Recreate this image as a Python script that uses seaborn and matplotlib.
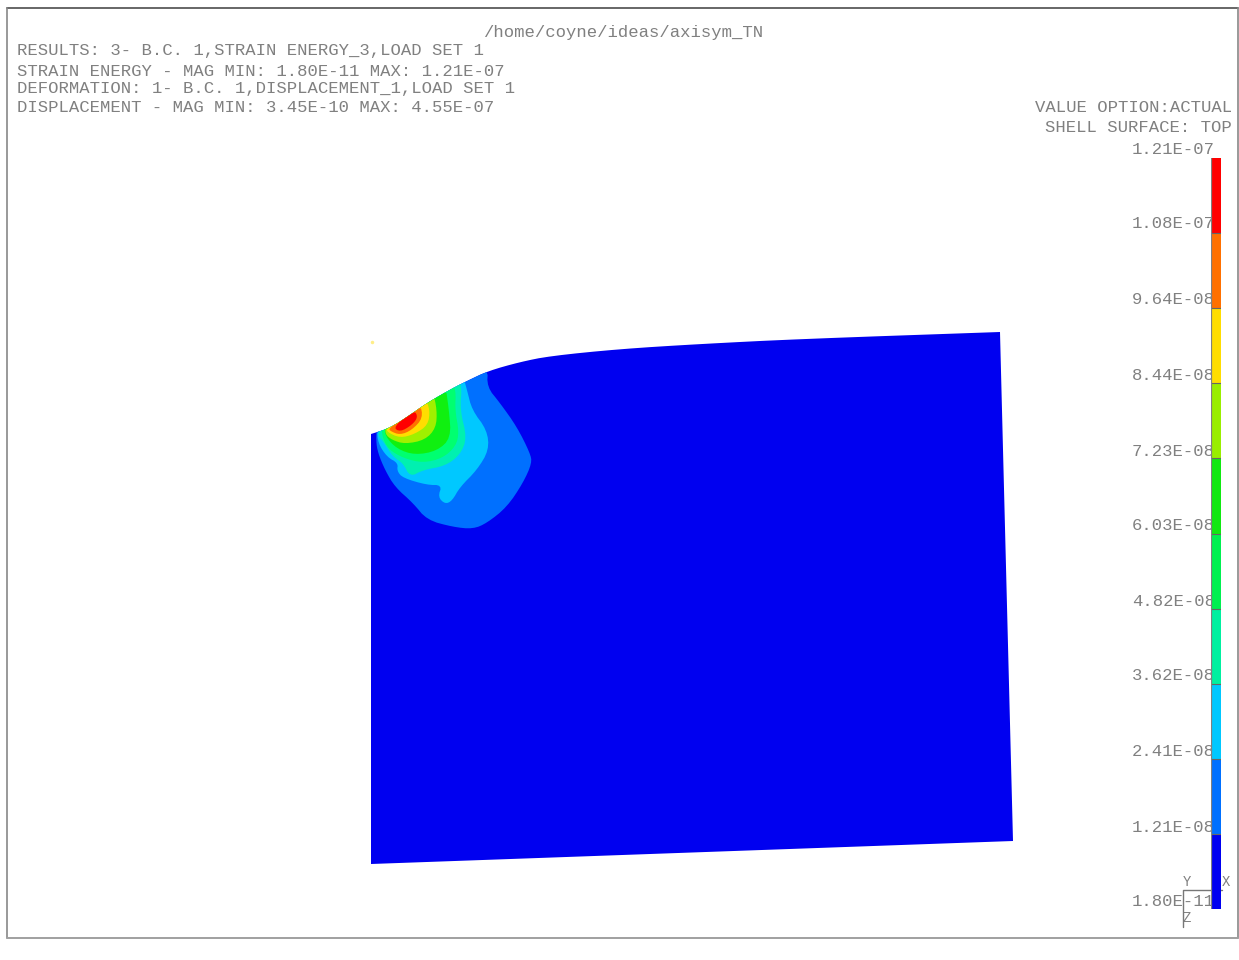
import numpy as np
import matplotlib
matplotlib.use("Agg")
import matplotlib.pyplot as plt
from matplotlib.colors import ListedColormap
from matplotlib.patches import Polygon
import seaborn as sns

# ---- text content ----
header_lines = [
    "RESULTS: 3- B.C. 1,STRAIN ENERGY_3,LOAD SET 1",
    "STRAIN ENERGY - MAG MIN: 1.80E-11 MAX: 1.21E-07",
    "DEFORMATION: 1- B.C. 1,DISPLACEMENT_1,LOAD SET 1",
    "DISPLACEMENT - MAG MIN: 3.45E-10 MAX: 4.55E-07",
]
path_label = "/home/coyne/ideas/axisym_TN"
option_lines = ["VALUE OPTION:ACTUAL", "SHELL SURFACE: TOP"]
scale_labels = ["1.21E-07", "1.08E-07", "9.64E-08", "8.44E-08", "7.23E-08", "6.03E-08",
                "4.82E-08", "3.62E-08", "2.41E-08", "1.21E-08", "1.80E-11"]

# ---- colour bands, top (high) to bottom (low) ----
band_colors = ["#ff0000", "#ff7000", "#ffdd00", "#99ee00", "#11e811",
               "#00f050", "#00f0a0", "#00c8ff", "#0070ff", "#0000f0"]
band_index = list(range(10))

# ---- mesh outline and contour regions ----
top_edge = [(371,434),(390,428),(410,415),(427,403),(453,388),(467,381),(488,371),(520,362),(550,356),
            (620,349),(700,344),(800,339),(1000,332)]
lower_corners = [(1000,332),(1013,841),(371,864)]
region_blue = [(488,368),(487,387),(500,403),(517,427),(530,453),(532,463),(523,483),(507,507),
               (487,523),(473,529),(453,527),(427,520),(413,503),(395,487),(385,470),(378,453),
               (376,441),(377,425),(420,400),(467,370)]
region_cyan = [(462,372),(467,390),(472,410),(487,430),(489,450),(477,470),(460,487),(452,501),
               (445,504),(438,497),(442,485),(427,485),(403,478),(397,471),(398,463),(387,457),
               (378,443),(377,428),(420,395)]
region_teal = [(380,425),(455,375),(462,385),(460,410),(467,438),(460,455),(445,466),(423,470),
               (410,477),(403,463),(393,457),(383,441),(378,436)]
region_spring = [(382,425),(450,378),(456,390),(455,410),(459,432),(456,446),(443,458),(423,463),
                 (403,458),(388,449),(382,436)]
region_green = [(385,425),(445,383),(449,410),(451,438),(437,451),(415,455),(397,449),(385,436)]
region_lime = [(386,425),(433,392),(437,410),(436,428),(425,440),(405,444),(392,440),(385,434)]
region_yellow = [(387,428),(425,398),(430,410),(428,425),(415,434),(400,438),(387,432)]
region_orange = [(389,428),(420,403),(423,418),(412,430),(400,435),(390,431)]
region_red = [(393,427),(414,410),(418,417),(412,425),(400,432)]
regions = [region_blue, region_cyan, region_teal, region_spring, region_green,
           region_lime, region_yellow, region_orange, region_red]
region_colors = ["#0070ff", "#00c8ff", "#00f0b0", "#00ff70", "#10f010",
                 "#a0f000", "#ffdd00", "#ff7000", "#ff0000"]


def rounded(points, closed=True, passes=2):
    """Round the corners of a traced outline so it draws as a soft curve."""
    pts = np.asarray(points, dtype=float)
    for _ in range(passes):
        a = pts if closed else pts[:-1]
        b = np.roll(pts, -1, axis=0) if closed else pts[1:]
        q, r = 0.75 * a + 0.25 * b, 0.25 * a + 0.75 * b
        mid = np.empty((2 * len(a), 2))
        mid[0::2], mid[1::2] = q, r
        pts = mid if closed else np.vstack([pts[0], mid, pts[-1]])
    return pts


sns.set_theme(style="white")
plt.rcParams["font.family"] = ["Liberation Mono", "DejaVu Sans"]

W, H = 1239, 960
fig = plt.figure(figsize=(W / 100, H / 100), dpi=100, facecolor="white")
ax = fig.add_axes([0, 0, 1, 1])
ax.set_xlim(0, W)
ax.set_ylim(H, 0)
ax.axis("off")

# frame
ax.plot([7, 1238], [8, 8], color="#666666", lw=1.4)
ax.plot([7, 7], [8, 938], color="#888888", lw=1.2)
ax.plot([1238, 1238], [8, 938], color="#888888", lw=1.2)
ax.plot([7, 1238], [938, 938], color="#a0a0a0", lw=1.4)

# mesh
body = np.vstack([rounded(top_edge, closed=False), lower_corners[1:]])
outline = Polygon(body, closed=True, fc="#0000f0", ec="none", zorder=2)
ax.add_patch(outline)
for pts, c in zip(regions, region_colors):
    p = Polygon(rounded(pts), closed=True, fc=c, ec="none", zorder=3)
    ax.add_patch(p)
    p.set_clip_path(outline)
ax.plot([372], [342], marker="o", ms=1.5, color="#ffee88", zorder=2)

# texts
txt = dict(color="#808080", fontsize=12.4, va="center", ha="left", zorder=5)
for s, y in zip(header_lines, [51, 71, 89, 108]):
    ax.text(17, y, s, **txt)
ax.text(483, 33, path_label, **txt)
for s, y in zip(option_lines, [108, 127]):
    ax.text(1232, y, s, **{**txt, "ha": "right"})
for s, y in zip(scale_labels, [150, 224, 300, 375, 451, 526, 601, 676, 751, 827, 901]):
    ax.text(1132, y, s, **txt)

# axis triad
ax.plot([1222, 1183, 1183], [890, 890, 927], color="#777777", lw=1, zorder=7)
ax.text(1187, 882, "Y", **{**txt, "ha": "center", "fontsize": 10})
ax.text(1226, 882, "X", **{**txt, "ha": "center", "fontsize": 10})
ax.text(1187, 918, "Z", **{**txt, "ha": "center", "fontsize": 10})

# colour scale
cax = fig.add_axes([1211 / W, 1 - 909 / H, 10 / W, 751 / H])
sns.heatmap(np.array(band_index).reshape(-1, 1), cmap=ListedColormap(band_colors),
            vmin=-0.5, vmax=9.5, cbar=False, ax=cax, xticklabels=False, yticklabels=False)
cax.hlines(range(1, 10), 0, 1, color="#666666", lw=0.8)
cax.axvline(0, color="#808080", lw=1.6)
fig.savefig("out.png", dpi=100)
